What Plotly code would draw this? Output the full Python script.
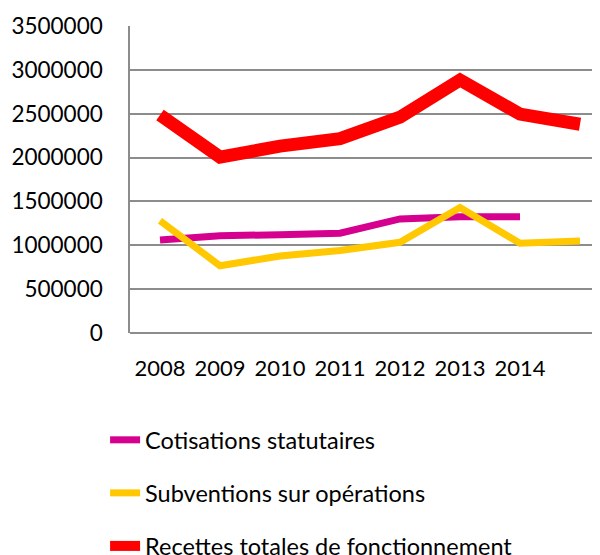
import plotly.graph_objects as go

years = ["2008", "2009", "2010", "2011", "2012", "2013", "2014"]
positions = list(range(8))  # 8 category slots, last one unlabeled

cotisations = [1060000, 1110000, 1120000, 1137000, 1300000, 1326000, 1326000]
subventions = [1280000, 767000, 878000, 940000, 1034000, 1430000, 1023000, 1050000]
recettes = [2485000, 2005000, 2130000, 2215000, 2460000, 2885000, 2495000, 2380000]

series_names = ["Cotisations statutaires", "Subventions sur opérations",
                "Recettes totales de fonctionnement"]

FONT = "Lato"

fig = go.Figure()
fig.add_trace(go.Scatter(x=positions[:len(cotisations)], y=cotisations, mode="lines",
                         name=series_names[0], legendgroup="a",
                         line=dict(color="#D6008F", width=7)))
fig.add_trace(go.Scatter(x=positions[:len(subventions)], y=subventions, mode="lines",
                         name=series_names[1], legendgroup="b",
                         line=dict(color="#FFC800", width=7)))
fig.add_trace(go.Scatter(x=positions[:len(recettes)], y=recettes, mode="lines",
                         name=series_names[2], legendgroup="c",
                         line=dict(color="#FF0000", width=13)))

fig.update_layout(
    width=592, height=547,
    margin=dict(l=122, r=0, t=18, b=222, autoexpand=False),
    paper_bgcolor="white", plot_bgcolor="white",
    font=dict(family=FONT, size=22, color="#000000"),
    showlegend=True,
    legend=dict(x=-0.053, xanchor="left", y=-0.277, yanchor="top",
                orientation="v", tracegroupgap=19.5,
                font=dict(family=FONT, size=23.5, color="#000000"),
                bgcolor="rgba(0,0,0,0)"),
    xaxis=dict(range=[-0.5, 7.333], tickmode="array",
               tickvals=positions[:len(years)], ticktext=years,
               showgrid=False, zeroline=False, showline=False,
               ticks="", ticklabelstandoff=20,
               tickfont=dict(family=FONT, size=22, color="#000000"),
               fixedrange=True),
    yaxis=dict(range=[0, 3500000], tick0=0, dtick=500000,
               tickformat="d", showgrid=True, gridcolor="#8C8C8C", gridwidth=1.5,
               zeroline=True, zerolinecolor="#8C8C8C", zerolinewidth=1.5,
               showline=True, linecolor="#8C8C8C", linewidth=1.5,
               ticks="", ticklabelstandoff=21,
               tickfont=dict(family=FONT, size=22.5, color="#000000"),
               fixedrange=True),
)

fig.write_html("out.html")
